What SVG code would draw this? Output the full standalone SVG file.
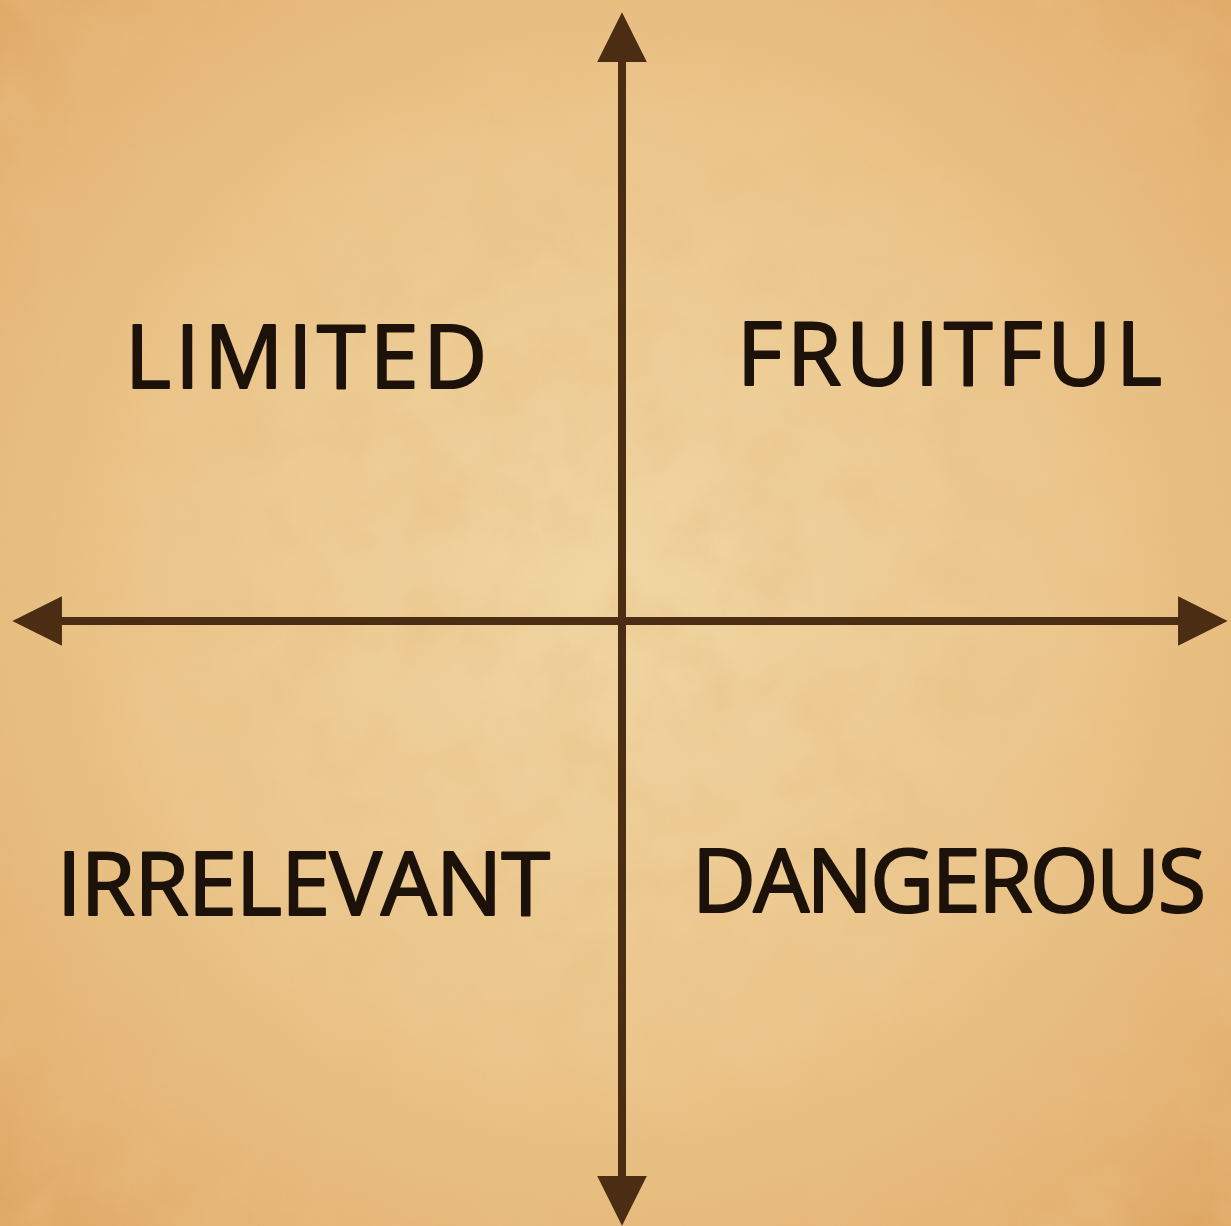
<svg xmlns="http://www.w3.org/2000/svg" width="1231" height="1226" viewBox="0 0 1231 1226">
  <defs>
    <radialGradient id="bg" cx="0.5" cy="0.48" r="0.75">
      <stop offset="0" stop-color="#f1d6a3"/>
      <stop offset="0.5" stop-color="#ebc68c"/>
      <stop offset="0.85" stop-color="#e3b171"/>
      <stop offset="1" stop-color="#dc9f5a"/>
    </radialGradient>
    <filter id="noise" x="0" y="0" width="100%" height="100%">
      <feTurbulence type="fractalNoise" baseFrequency="0.015" numOctaves="5" seed="7"/>
      <feColorMatrix type="matrix" values="0 0 0 0 0.80  0 0 0 0 0.52  0 0 0 0 0.22  0 0 0 1.4 -0.55"/>
    </filter>
    <marker id="ah" viewBox="0 0 10 10" refX="1" refY="5" markerWidth="6.2" markerHeight="6.2" markerUnits="strokeWidth" orient="auto-start-reverse">
      <path d="M0,0 L10,5 L0,10 Z" fill="#4a2d12"/>
    </marker>
    <style>
      .axis { stroke: #4a2d12; stroke-width: 8; fill: none; }
      .lbl { font-family: "Open Sans", "Lato", "Liberation Sans", sans-serif; font-weight: 400; font-size: 88px; fill: #1c120a; stroke: #1c120a; stroke-width: 2.2; stroke-linejoin: round; }
    </style>
  </defs>
  <rect width="1231" height="1226" fill="url(#bg)"/>
  <rect width="1231" height="1226" filter="url(#noise)" opacity="0.6"/>
  <g id="connectors">
    <line class="axis" x1="622" y1="1181" x2="622" y2="57" marker-end="url(#ah)" marker-start="url(#ah)"/>
    <line class="axis" x1="57" y1="621" x2="1183" y2="621" marker-end="url(#ah)" marker-start="url(#ah)"/>
  </g>
  <g id="limited"><text class="lbl" x="125" y="388" textLength="362" lengthAdjust="spacing">LIMITED</text></g>
  <g id="fruitful"><text class="lbl" x="737" y="385" textLength="425" lengthAdjust="spacing">FRUITFUL</text></g>
  <g id="irrelevant"><text class="lbl" x="57" y="915" textLength="493" lengthAdjust="spacing">IRRELEVANT</text></g>
  <g id="dangerous"><text class="lbl" x="692" y="912" textLength="514" lengthAdjust="spacing">DANGEROUS</text></g>
</svg>
